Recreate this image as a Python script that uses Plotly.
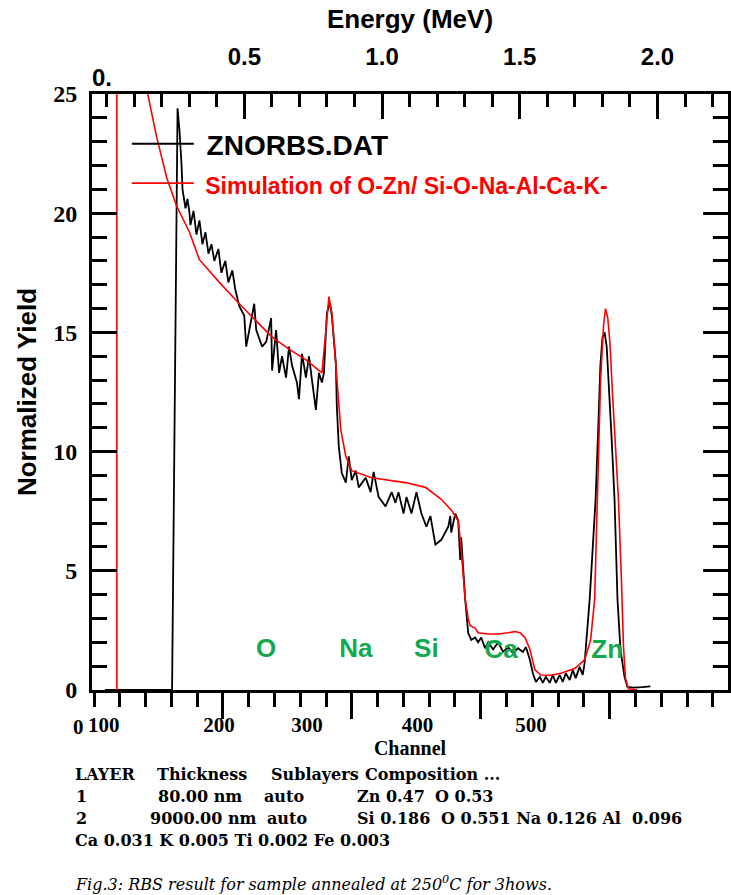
import plotly.graph_objects as go

# ---------------- data ----------------
EXP_CHANNEL = [100, 163.5, 168.7, 170.5, 172.5, 173.4, 176.2, 178.1, 180.0, 180.9, 183.8, 186.6,
               189.4, 192.2, 195.1, 197.9, 200.7, 203.5, 207.3, 210.1, 213.9, 216.7, 220.5, 223.3,
               227.1, 231.8, 233.6, 236.5, 241.2, 243.1, 248.7, 252.5, 257.2, 258.1, 261.9, 264.7,
               267.5, 271.3, 274.1, 277.0, 281.6, 283.5, 286.4, 290.1, 293.0, 295.8, 299.5, 302.4,
               305.2, 307.1, 309.9, 312.7, 314.6, 318.4, 319.3, 321.2, 324.0, 327.8, 330.6, 333.4,
               337.2, 340.0, 346.6, 351.3, 354.1, 358.8, 365.4, 371.1, 374.8, 377.6, 382.4, 385.2,
               389.9, 394.6, 399.3, 404.0, 407.8, 412.5, 418.1, 424.7, 426.6, 427.5, 431.3, 434.1,
               436.0, 436.9, 440.7, 443.5, 446.4, 450.1, 452.9, 455.8, 459.5, 462.4, 467.1, 471.8,
               476.5, 481.2, 485.9, 490.6, 495.3, 498.1, 501.9, 504.7, 507.5, 511.3, 514.1, 516.9,
               520.7, 523.5, 526.4, 530.1, 532.9, 535.8, 539.5, 542.4, 545.2, 548.9, 551.8, 553.6,
               555.5, 558.4, 561.2, 564.0, 566.5, 568.5, 570.5, 572.5, 574.5, 577.0, 579.1, 581.9,
               584.7, 587.5, 591.3, 594.1, 600.0, 608.0, 615.8]
EXP_YIELD = [0, 0, 24.4, 23.5, 22.0, 21.0, 20.2, 20.6, 20.0, 19.5, 20.1, 19.1,
             19.7, 18.7, 19.2, 18.3, 18.7, 18.0, 18.5, 17.5, 18.0, 17.1, 17.6, 16.8,
             16.1, 15.7, 14.4, 15.1, 16.2, 15.1, 14.4, 14.6, 15.6, 13.4, 15.1, 13.3,
             14.0, 13.1, 14.4, 13.6, 12.9, 12.2, 14.1, 13.1, 14.0, 13.0, 11.75, 13.3,
             12.9, 13.3, 15.8, 16.25, 15.7, 13.7, 11.9, 10.2, 9.1, 8.7, 9.8, 8.8,
             9.2, 8.5, 8.9, 8.3, 9.15, 8.1, 7.7, 8.3, 7.85, 8.3, 7.4, 8.1,
             7.4, 8.3, 7.4, 6.85, 7.3, 6.1, 6.3, 6.85, 7.3, 6.6, 7.4, 7.1,
             5.45, 6.4, 3.8, 2.4, 2.1, 2.2, 2.0, 2.2, 1.75, 2.0, 1.7, 2.0,
             1.6, 1.8, 1.55, 1.75, 1.6, 1.8, 1.26, 0.7, 0.34, 0.55, 0.3, 0.55,
             0.3, 0.63, 0.3, 0.63, 0.34, 0.7, 0.42, 0.84, 0.5, 0.97, 0.63, 1.13,
             2.1, 3.8, 5.9, 8.0, 11.0, 13.6, 14.8, 15.0, 14.4, 12.6, 10.6, 8.0,
             3.8, 1.7, 0.55, 0.13, 0.1, 0.12, 0.15]

SIM_CHANNEL = [111.3, 111.35, 125.0, 135.0, 140.5, 148.9, 158.4, 167.8, 180.0, 189.4, 208.2,
               227.1, 258.1, 274.1, 290.1, 305.2, 309.0, 311.8, 314.6, 319.3, 323.1, 327.8,
               333.4, 352.2, 384.2, 403.1, 418.1, 427.5, 434.1, 436.9, 440.7, 443.5, 445.4,
               450.1, 452.9, 462.4, 471.8, 481.2, 487.8, 492.5, 497.2, 501.9, 506.6, 512.2,
               521.6, 531.1, 544.2, 553.6, 559.3, 563.1, 565.9, 568.7, 571.5, 573.4, 575.5,
               577.5, 580.0, 582.8, 585.6, 588.5, 590.4, 592.2, 595.0, 603.5]
SIM_YIELD = [0, 60, 38, 28.5, 25.0, 23.2, 21.5, 20.3, 19.2, 18.05, 17.1,
             16.2, 14.8, 14.3, 13.85, 13.3, 15.1, 16.5, 15.8, 13.0, 10.9, 9.8,
             9.2, 8.9, 8.7, 8.5, 8.0, 7.55, 7.1, 5.9, 3.8, 3.0, 2.7,
             2.6, 2.4, 2.35, 2.35, 2.4, 2.45, 2.4, 2.2, 1.7, 0.85, 0.63,
             0.62, 0.7, 0.9, 1.26, 2.1, 3.8, 8.0, 13.0, 15.3, 16.0, 15.6,
             14.6, 12.4, 10.0, 8.0, 4.5, 1.8, 0.5, 0.05, 0]

ELEMENTS = ["O", "Na", "Si", "Ca", "Zn"]
ELEMENT_CHANNEL = [252.5, 337.2, 404.0, 474.6, 575.0]
ELEMENT_YIELD = [1.64, 1.64, 1.64, 1.6, 1.6]

CHANNEL_LABELS = ["100", "200", "300", "400", "500"]
CHANNEL_LABEL_POS = [99, 208, 291, 395.5, 503]
ENERGY_TICKS = [0.5, 1.0, 1.5, 2.0]
ENERGY_LABELS = ["0.5", "1.0", "1.5", "2.0"]
YIELD_TICKS = [0, 5, 10, 15, 20, 25]

LEGEND_EXP = "ZNORBS.DAT"
LEGEND_SIM = "Simulation of O-Zn/ Si-O-Na-Al-Ca-K-"

# ---------------- geometry ----------------
W, H = 731, 895
ML, MR, MT, MB = 92, 0, 94, 205
X_RANGE = [87.8, 689.2]
E_RANGE = [-0.0531, 2.256]
PW, PH = W - ML - MR, H - MT - MB


def pxx(p):
    return (p - ML) / PW


def pxy(p):
    return (H - MB - p) / PH


tick0, tstep = 89.7, 24.38
all_ticks = [tick0 + tstep * k for k in range(25)]
long_ticks = [all_ticks[k] for k in (5, 10, 15, 20)]
short_ticks = [t for k, t in enumerate(all_ticks) if k not in (5, 10, 15, 20)]

SANS = "Liberation Sans, Arial, sans-serif"
SERIF = "Liberation Serif, Times New Roman, serif"
TABLE = "DejaVu Serif, serif"
NB = "\u00a0"

fig = go.Figure()
fig.add_trace(go.Scatter(x=EXP_CHANNEL, y=EXP_YIELD, mode="lines",
                         line=dict(color="black", width=1.8),
                         name=NB + "<b>" + LEGEND_EXP + "</b>"))
fig.add_trace(go.Scatter(x=SIM_CHANNEL, y=SIM_YIELD, mode="lines",
                         line=dict(color="#ff0000", width=1.6),
                         name="<span style='font-size:23px;color:#ff0000'>" + NB + "<b>" + LEGEND_SIM + "</b></span>"))
fig.add_trace(go.Scatter(x=ELEMENT_CHANNEL, y=ELEMENT_YIELD, mode="text", text=ELEMENTS,
                         textfont=dict(family=SANS, size=26, color="#14a84f", weight="bold"),
                         showlegend=False, hoverinfo="skip"))
# empty traces so that the overlaid axes (energy scale, channel label axis) are drawn
fig.add_trace(go.Scatter(x=[], y=[], xaxis="x2", yaxis="y", showlegend=False, hoverinfo="skip"))
fig.add_trace(go.Scatter(x=[], y=[], xaxis="x3", yaxis="y", showlegend=False, hoverinfo="skip"))

fig.update_layout(
    width=W, height=H,
    margin=dict(l=ML, r=MR, t=MT, b=MB),
    paper_bgcolor="white", plot_bgcolor="white",
    showlegend=True,
    legend=dict(x=pxx(127), y=0.958, xanchor="left", yanchor="top",
                font=dict(family=SANS, size=28, color="black"),
                bgcolor="rgba(0,0,0,0)", itemwidth=62, tracegroupgap=0),
    xaxis=dict(range=X_RANGE, showgrid=False, zeroline=False,
               showline=True, linecolor="black", linewidth=3,
               tickmode="array", tickvals=long_ticks, ticks="outside",
               ticklen=26, tickwidth=3, tickcolor="black", showticklabels=False,
               minor=dict(tickmode="array", tickvals=short_ticks, ticks="outside",
                          ticklen=14, tickwidth=3, tickcolor="black")),
    xaxis3=dict(overlaying="x", anchor="y", side="bottom", range=X_RANGE,
                showgrid=False, zeroline=False, showline=False,
                tickmode="array", tickvals=CHANNEL_LABEL_POS, ticktext=CHANNEL_LABELS,
                ticks="", ticklabelstandoff=20,
                tickfont=dict(family=SERIF, size=21, color="black", weight="bold"),
                title=dict(text="<b>Channel</b>", standoff=2,
                           font=dict(family=SERIF, size=20, color="black"))),
    xaxis2=dict(overlaying="x", anchor="y", side="top", range=E_RANGE,
                showgrid=False, zeroline=False,
                showline=True, linecolor="black", linewidth=3,
                tickmode="array", tickvals=ENERGY_TICKS, ticktext=ENERGY_LABELS,
                ticks="inside", ticklen=25, tickwidth=3, tickcolor="black",
                ticklabelstandoff=16,
                tickfont=dict(family=SANS, size=24, color="black", weight="bold"),
                minor=dict(dtick=0.1, tick0=0, ticks="inside", ticklen=13,
                           tickwidth=3, tickcolor="black"),
                title=dict(text="<b>Energy (MeV)</b>", standoff=8,
                           font=dict(family=SANS, size=26, color="black"))),
    yaxis=dict(range=[0, 25], showgrid=False, zeroline=False,
               showline=True, linecolor="black", linewidth=3, mirror="ticks",
               tickmode="array", tickvals=YIELD_TICKS, ticks="inside",
               ticklen=25, tickwidth=3, tickcolor="black", ticklabelstandoff=7,
               tickfont=dict(family=SERIF, size=24, color="black", weight="bold"),
               minor=dict(dtick=1, tick0=0, ticks="inside", ticklen=15,
                          tickwidth=3, tickcolor="black"),
               title=dict(text="<b>Normalized Yield</b>", standoff=10,
                          font=dict(family=SANS, size=26, color="black"))),
)

ann = []
ann.append(dict(text="<b>0.</b>", x=pxx(102), y=pxy(77), xref="paper", yref="paper",
                showarrow=False, xanchor="center", yanchor="middle",
                font=dict(family=SANS, size=24, color="black")))
ann.append(dict(text="<b>0</b>", x=pxx(78), y=pxy(727), xref="paper", yref="paper",
                showarrow=False, xanchor="center", yanchor="middle",
                font=dict(family=SERIF, size=21, color="black")))

table = [
    ("LAYER", 73, 774), ("Thickness", 155, 774), ("Sublayers", 270, 774), ("Composition ...", 364, 774),
    ("1", 74, 796), ("80.00 nm", 156, 796), ("auto", 263, 796), ("Zn 0.47", 356, 796), ("O 0.53", 435, 796),
    ("2", 74, 818), ("9000.00 nm", 148, 818), ("auto", 266, 818), ("Si 0.186", 356, 818),
    ("O 0.551 Na 0.126 Al  0.096", 441, 818),
    ("Ca 0.031 K 0.005 Ti 0.002 Fe 0.003", 73, 840),
]
for txt, x, y in table:
    ann.append(dict(text="<b>" + txt + "</b>", x=pxx(x), y=pxy(y), xref="paper", yref="paper",
                    showarrow=False, xanchor="left", yanchor="middle",
                    font=dict(family=TABLE, size=16, color="black")))
ann.append(dict(text="<i>Fig.3: RBS result for sample annealed at 250<sup>0</sup>C for 3hows.</i>",
                x=pxx(73), y=pxy(883), xref="paper", yref="paper",
                showarrow=False, xanchor="left", yanchor="middle",
                font=dict(family=TABLE, size=16, color="black")))
fig.update_layout(annotations=ann)

fig.write_html("out.html")
